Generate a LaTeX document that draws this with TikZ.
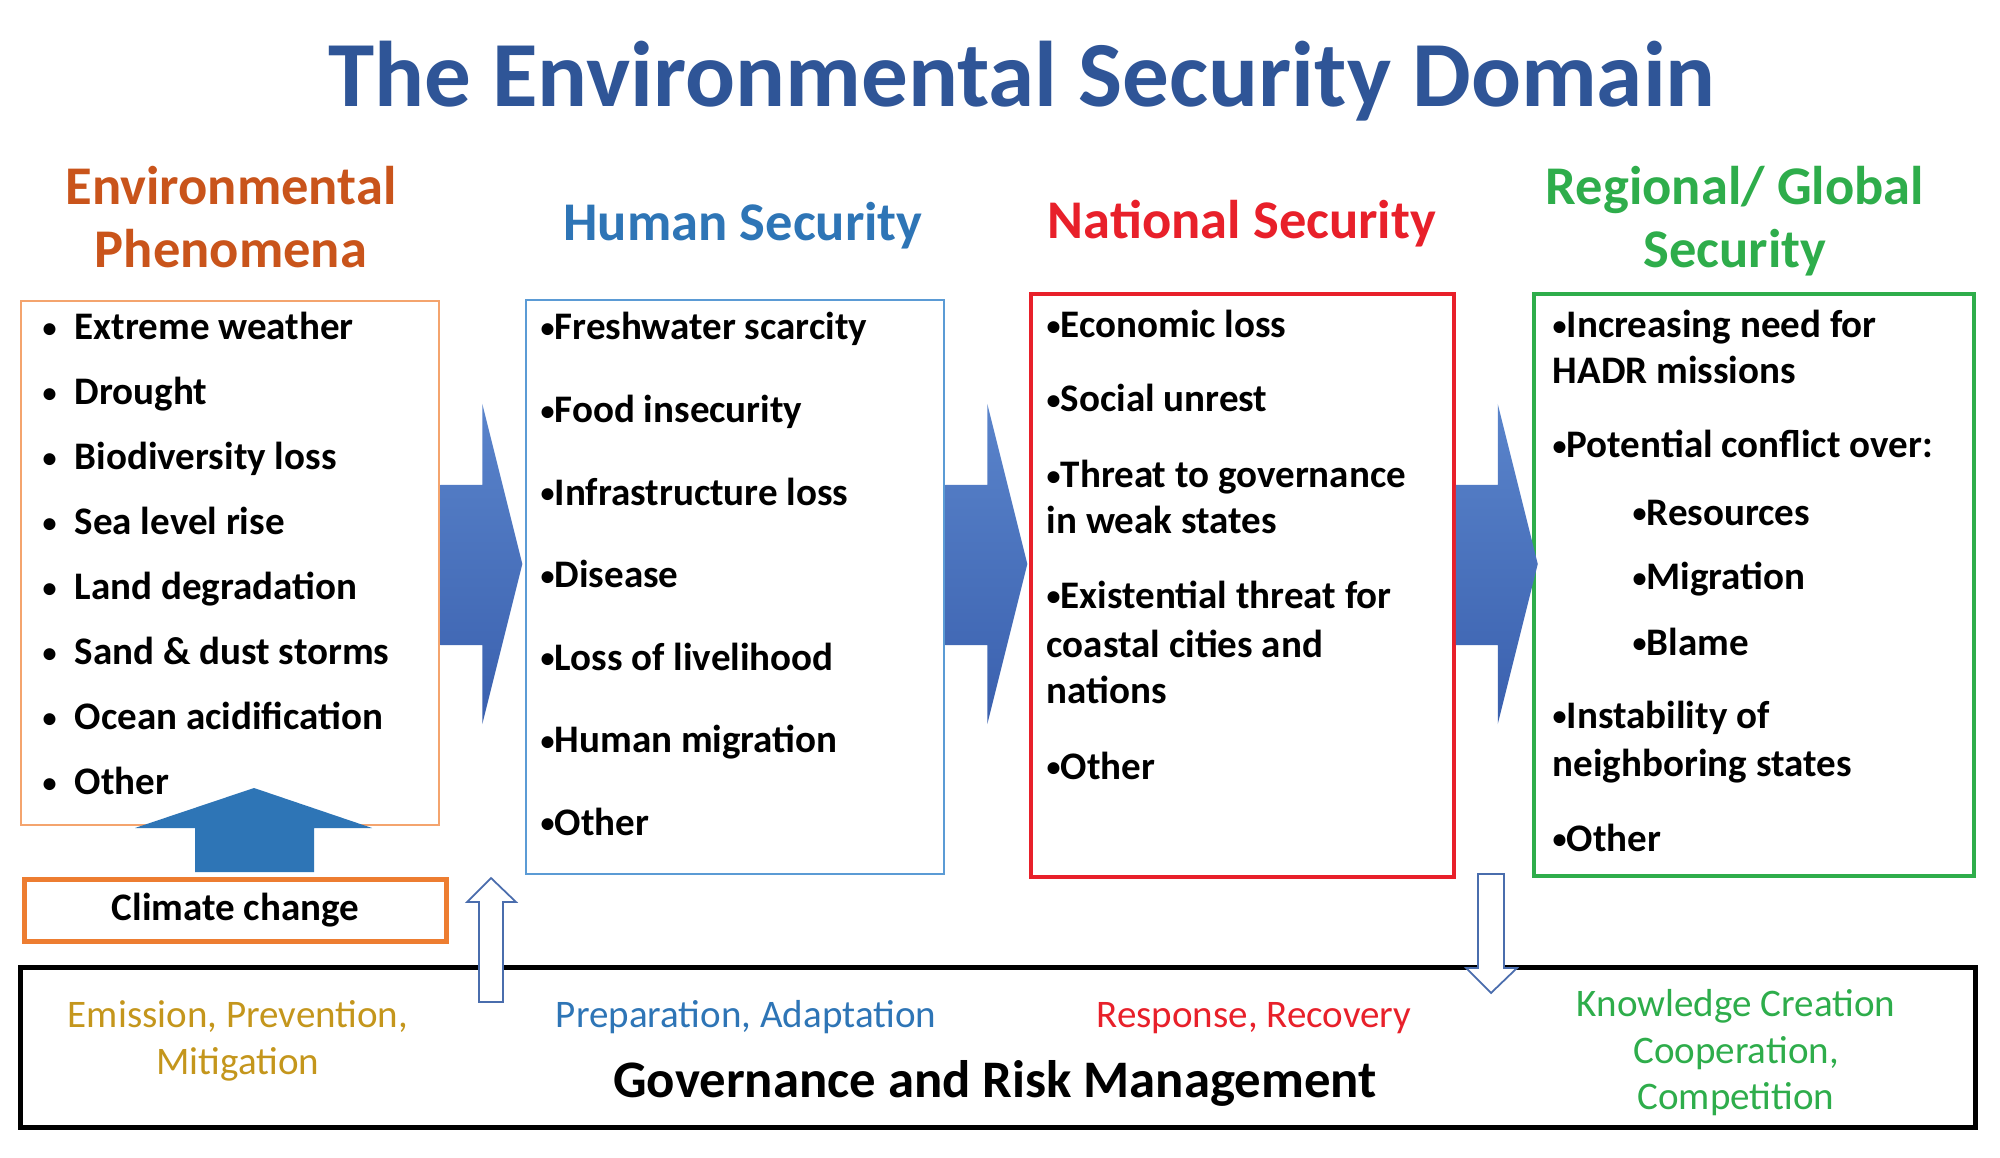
\documentclass[tikz,border=0pt]{standalone}
\usepackage{fontspec}
\setmainfont{Carlito}
\usepackage{graphicx}
\usepackage{tikz}
\usetikzlibrary{calc}
\definecolor{titleblue}{HTML}{2F5597}
\definecolor{envorange}{HTML}{C9541B}
\definecolor{envline}{HTML}{F4A46E}
\definecolor{climorange}{HTML}{ED7D31}
\definecolor{humblue}{HTML}{2E75B6}
\definecolor{humline}{HTML}{5B9BD5}
\definecolor{natred}{HTML}{E8202A}
\definecolor{reggreen}{HTML}{2EAD4B}
\definecolor{gold}{HTML}{C4961C}
\definecolor{flowtop}{HTML}{5A84CB}
\definecolor{flowbot}{HTML}{3A60AE}
\definecolor{hollowline}{HTML}{4A6DAD}
\tikzset{
  frame/.style={inner sep=0pt, anchor=north west},
  item/.style={font=\bfseries\fontsize{11.1}{13.4}\selectfont, anchor=base west, inner sep=0pt},
  head/.style={font=\bfseries\fontsize{15.5}{18}\selectfont, anchor=base, inner sep=0pt},
  note/.style={font=\fontsize{11.1}{13}\selectfont, anchor=base, inner sep=0pt},
  flow/.style={top color=flowtop, bottom color=flowbot},
  hollow/.style={draw=hollowline, fill=white, line width=0.5pt, line join=miter},
}
\newcommand{\flowarrow}[1]{% block arrow leaving the right side of #1
  \shade[flow] (#1.east |- arrowrow) -- ++(42,0) -- ++(0,-81) -- ++(40,160)
    -- ++(-40,160) -- ++(0,-79) -- ++(-42,0) -- cycle;}
\newcommand{\bul}{\raisebox{0.12ex}{\scalebox{0.72}{•}}}
\newcommand{\dotted}[1]{\makebox[0.32cm][l]{\bul}#1}

\begin{document}
\begin{tikzpicture}[x=0.01cm,y=-0.01cm]
  \useasboundingbox (0,0) rectangle (2000,1158);
  \fill[white] (0,0) rectangle (2000,1158);
  \coordinate (arrowrow) at (0,485);

  \node[font=\bfseries\fontsize{26.5}{30}\selectfont, text=titleblue, anchor=base] (title) at (1022,107) {The Environmental Security Domain};

  % column heads
  \node[head, text=envorange] (envhead1) at (231,205) {Environmental};
  \node[head, text=envorange] (envhead2) at (231,268) {Phenomena};
  \node[head, text=humblue] (humhead) at (743,241) {Human Security};
  \node[head, text=natred] (nathead) at (1242,239) {National Security};
  \node[head, text=reggreen] (reghead1) at (1735,205) {Regional/ Global};
  \node[head, text=reggreen] (reghead2) at (1735,268) {Security};

  % the four boxes
  \node[frame, draw=envline, line width=0.6pt, minimum width=4.18cm, minimum height=5.24cm] (env) at (20,300) {};
  \node[frame, draw=humline, line width=0.6pt, minimum width=4.18cm, minimum height=5.74cm] (human) at (525,299) {};
  \node[frame, draw=natred, line width=1pt, minimum width=4.23cm, minimum height=5.83cm] (national) at (1029,292) {};
  \node[frame, draw=reggreen, line width=1pt, minimum width=4.40cm, minimum height=5.82cm] (regional) at (1532,292) {};
  \node[frame, draw=climorange, line width=1.4pt, minimum width=4.22cm, minimum height=0.62cm,
        font=\bfseries\fontsize{11.1}{13.4}\selectfont] (climate) at (22,877) {Climate change};

  \flowarrow{env}
  \flowarrow{human}
  \flowarrow{national}

  % climate change pushes up into the phenomena
  \fill[humblue] (195,872) -- (195,828) -- (135,828) -- (254,788) -- (372,828)
    -- (314,828) -- (314,872) -- cycle;

  \foreach \txt [count=\i] in {Extreme weather, Drought, Biodiversity loss, Sea level rise,
      Land degradation, Sand \& dust storms, Ocean acidification, Other}
    \node[item] (env\i) at (42,{340+64.9*(\i-1)}) {\dotted{\txt}};

  \foreach \txt [count=\i] in {Freshwater scarcity, Food insecurity, Infrastructure loss,
      Disease, Loss of livelihood, Human migration, Other}
    \node[item] (hum\i) at (540,{340+82.5*(\i-1)}) {\bul\txt};

  \node[item] (nat1) at (1046,338) {\bul Economic loss};
  \node[item] (nat2) at (1046,412) {\bul Social unrest};
  \node[item] (nat3) at (1046,488) {\bul Threat to governance};
  \node[item] (nat4) at (1046,534) {in weak states};
  \node[item] (nat5) at (1046,608) {\bul Existential threat for};
  \node[item] (nat6) at (1046,657) {coastal cities and};
  \node[item] (nat7) at (1046,703) {nations};
  \node[item] (nat8) at (1046,779) {\bul Other};

  \node[item] (reg1) at (1552,338) {\bul Increasing need for};
  \node[item] (reg2) at (1552,384) {HADR missions};
  \node[item] (reg3) at (1552,458) {\bul Potential conflict over:};
  \node[item] (reg4) at (1632,525) {\bul Resources};
  \node[item] (reg5) at (1632,590) {\bul Migration};
  \node[item] (reg6) at (1632,655) {\bul Blame};
  \node[item] (reg7) at (1552,728) {\bul Instability of};
  \node[item] (reg8) at (1552,776) {neighboring states};
  \node[item] (reg9) at (1552,851) {\bul Other};

  % governance band
  \node[frame, draw=black, line width=1.4pt, minimum width=19.54cm, minimum height=1.60cm] (gov) at (18,965) {};
  \node[note, text=gold] (emis1) at (238,1027) {Emission, Prevention,};
  \node[note, text=gold] (emis2) at (238,1074) {Mitigation};
  \node[note, text=humblue] (prep) at (746,1027) {Preparation, Adaptation};
  \node[note, text=natred] (resp) at (1254,1027) {Response, Recovery};
  \node[note, text=reggreen] (know1) at (1736,1016) {Knowledge Creation};
  \node[note, text=reggreen] (know2) at (1736,1063) {Cooperation,};
  \node[note, text=reggreen] (know3) at (1736,1109) {Competition};
  \node[font=\bfseries\fontsize{15}{18}\selectfont, anchor=base] (govlabel) at (995,1097) {Governance and Risk Management};

  \draw[hollow] (479,1002) -- (479,902) -- (467,902) -- (491,878) -- (516,902)
    -- (503,902) -- (503,1002) -- cycle;
  \draw[hollow] (1478,874) -- (1478,968) -- (1466,968) -- (1491,993) -- (1517,968)
    -- (1504,968) -- (1504,874) -- cycle;
\end{tikzpicture}
\end{document}
